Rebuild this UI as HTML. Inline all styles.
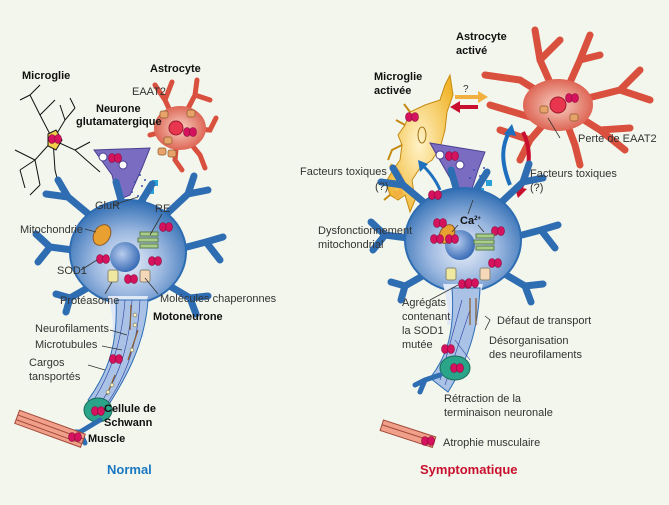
<!DOCTYPE html>
<html><head><meta charset="utf-8"><style>
html,body{margin:0;padding:0;background:#f3f6ec;}
svg{display:block}
text{font-family:"Liberation Sans Narrow","Liberation Sans",sans-serif;font-size:11px;fill:#333}
.b{font-weight:bold;fill:#111}
</style></head><body>
<svg width="669" height="505" viewBox="0 0 669 505" xmlns="http://www.w3.org/2000/svg">
<defs>
<radialGradient id="nb" cx="50%" cy="60%" r="60%"><stop offset="0" stop-color="#e8eef8"/><stop offset="0.5" stop-color="#9cb8e0"/><stop offset="1" stop-color="#2f6db3"/></radialGradient>
<radialGradient id="nuc" cx="40%" cy="40%" r="60%"><stop offset="0" stop-color="#b9cdee"/><stop offset="1" stop-color="#3d6fb8"/></radialGradient>
<radialGradient id="ast" cx="50%" cy="50%" r="60%"><stop offset="0" stop-color="#f7d2c4"/><stop offset="1" stop-color="#d9503f"/></radialGradient>
<radialGradient id="mg" cx="50%" cy="50%" r="60%"><stop offset="0" stop-color="#fff3c8"/><stop offset="1" stop-color="#f1b52c"/></radialGradient>
<g id="neuron">
 <g stroke="#2f6db3" stroke-width="7" stroke-linecap="round" fill="none">
  <path d="M-30,-30 L-60,-55 L-82,-58 M-60,-55 L-70,-72"/>
  <path d="M30,-30 L60,-58 L80,-62 M60,-58 L66,-76"/>
  <path d="M-40,0 L-78,-5 L-92,-18 M-78,-5 L-90,10"/>
  <path d="M40,0 L78,-10 L95,-15 M78,-10 L92,8"/>
  <path d="M-30,30 L-58,46 L-72,42 M-58,46 L-62,60"/>
  <path d="M35,30 L62,46 L80,44 M62,46 L68,62"/>
  <path d="M-5,-45 L-12,-70 M10,-45 L24,-68"/>
 </g>
 <ellipse cx="0" cy="0" rx="58" ry="52" fill="url(#nb)" stroke="#2f6db3" stroke-width="2"/>
 <path d="M-20,44 C-16,60 -14,70 -16,85 L16,85 C14,70 16,60 20,44 Z" fill="#dfe8f6"/>
 <circle cx="-3" cy="5" r="15" fill="url(#nuc)"/>
</g>
<g id="sod"><ellipse cx="-3" cy="1" rx="3.5" ry="4.5" fill="#d4125e" stroke="#8a0a3b" stroke-width="0.6"/><ellipse cx="3" cy="1" rx="3.5" ry="4.5" fill="#d4125e" stroke="#8a0a3b" stroke-width="0.6"/></g>
</defs>

<!-- ========== LEFT ========== -->
<g stroke="#111" stroke-width="1" fill="none">
 <path d="M53,140 L40,115 L30,95 M40,115 L55,100 M30,95 L40,85 M53,140 L35,160 L20,170 M35,160 L40,185 M20,170 L25,188 M53,140 L75,150 L92,165 M75,150 L90,142 M92,165 L100,172 M53,140 L65,120 L75,108 M65,120 L60,105 M35,160 L15,150 M40,185 L30,195 M53,140 L55,170 L60,190 M30,95 L20,100 M75,108 L70,98"/>
</g>
<path d="M48,134 l8,-4 l6,10 l-6,10 l-8,-4 z" fill="#f3cf4a" stroke="#111"/>
<use href="#sod" x="55" y="138"/>
<g stroke="#d9503f" stroke-width="5" stroke-linecap="round" fill="none">
 <path d="M178,128 L165,100 L155,85 M165,100 L172,82 M178,128 L195,95 L197,80 M195,95 L210,100 M178,128 L210,130 L216,118 M178,128 L200,155 L205,168 M178,128 L175,160 L182,170 M178,128 L150,135"/>
</g>
<ellipse cx="180" cy="128" rx="26" ry="22" fill="url(#ast)"/>
<circle cx="176" cy="128" r="7" fill="#e8364f" stroke="#a01a2e"/>
<use href="#sod" x="190" y="131"/>
<g fill="#e8a36a" stroke="#8b5a2b" stroke-width="0.7"><rect x="164" y="137" width="8" height="7" rx="2"/><rect x="158" y="148" width="8" height="7" rx="2"/><rect x="168" y="150" width="8" height="7" rx="2"/><rect x="160" y="111" width="8" height="7" rx="2"/><rect x="187" y="110" width="8" height="7" rx="2"/></g>
<path d="M94,150 L150,148 L142,168 L130,195 L118,200 L112,175 Z" fill="#7a6cc1" stroke="#4a3f91"/>
<circle cx="103" cy="157" r="4" fill="#fff" stroke="#4a3f91"/><circle cx="123" cy="165" r="4" fill="#fff" stroke="#4a3f91"/>
<use href="#sod" x="115" y="157"/>
<g fill="#3a4fb0"><circle cx="140" cy="175" r="1"/><circle cx="135" cy="182" r="1"/><circle cx="142" cy="186" r="1"/><circle cx="132" cy="192" r="1"/><circle cx="138" cy="196" r="1"/><circle cx="145" cy="180" r="1"/></g>
<g fill="#2aa0d8"><rect x="140" y="196" width="6" height="6"/><rect x="148" y="188" width="6" height="6"/><rect x="152" y="180" width="6" height="6"/></g>
<use href="#neuron" x="128" y="252"/>
<path d="M116,300 C118,340 110,370 88,400 L104,412 C125,380 145,345 148,300 Z" fill="#a9c2e6" stroke="#2f6db3"/>
<g stroke="#2b3f9e" stroke-width="0.6" fill="none"><path d="M125,300 C122,340 112,370 95,398 M132,300 C130,340 122,372 100,404 M140,300 C138,340 128,375 104,408"/></g>
<g stroke="#8b5a2b" stroke-width="1.2"><path d="M131,305 L130,330 M138,330 L128,360 M115,375 L107,395"/></g>
<g fill="#fff6c0" stroke="#998"><circle cx="135" cy="315" r="1.8"/><circle cx="135" cy="325" r="1.8"/><circle cx="132" cy="350" r="1.8"/><circle cx="112" cy="385" r="1.8"/><circle cx="108" cy="392" r="1.8"/></g>
<ellipse cx="98" cy="410" rx="14" ry="12" fill="#2aa58a" stroke="#1a6a57"/>
<use href="#sod" x="98" y="410"/>
<path d="M100,420 L80,432 L70,440 M80,432 L72,432 M80,432 L85,443" stroke="#2f6db3" stroke-width="5" fill="none" stroke-linecap="round"/>
<g transform="rotate(20 45 428)"><rect x="15" y="420" width="70" height="14" fill="#f0a08a" stroke="#a34a3a"/><line x1="15" y1="425" x2="85" y2="425" stroke="#a34a3a"/><line x1="15" y1="430" x2="85" y2="430" stroke="#a34a3a"/></g>
<use href="#sod" x="75" y="436"/>
<ellipse cx="102" cy="235" rx="8" ry="11" transform="rotate(30 102 235)" fill="#e8a030" stroke="#8b5a2b"/>
<g fill="#a8cc8a" stroke="#5a7a4a"><rect x="140" y="232" width="18" height="4"/><rect x="138" y="238" width="20" height="4"/><rect x="140" y="244" width="18" height="4"/></g>
<rect x="108" y="270" width="10" height="12" rx="2" fill="#eee8a0" stroke="#887"/>
<rect x="140" y="270" width="10" height="12" rx="2" fill="#f5d8b8" stroke="#887"/>
<use href="#sod" x="103" y="258"/><use href="#sod" x="155" y="260"/><use href="#sod" x="166" y="226"/><use href="#sod" x="131" y="278"/><use href="#sod" x="116" y="358"/>
<g stroke="#333" stroke-width="0.8" fill="none"><path d="M113,205 L138,197 M162,214 L150,235 M85,229 L96,232 M81,270 L97,260 M105,294 L112,282 M158,294 L145,278 M110,330 L127,335 M102,346 L122,350 M88,365 L105,370"/></g>
<text x="22" y="79" class="b">Microglie</text>
<text x="150" y="72" class="b">Astrocyte</text>
<text x="132" y="95">EAAT2</text>
<text x="96" y="112" class="b">Neurone</text>
<text x="76" y="125" class="b">glutamatergique</text>
<text x="95" y="209">GluR</text>
<text x="155" y="212">RE</text>
<text x="20" y="233">Mitochondrie</text>
<text x="57" y="274">SOD1</text>
<text x="60" y="304">Protéasome</text>
<text x="160" y="302">Molécules chaperonnes</text>
<text x="153" y="320" class="b">Motoneurone</text>
<text x="35" y="332">Neurofilaments</text>
<text x="35" y="348">Microtubules</text>
<text x="29" y="366">Cargos</text>
<text x="29" y="380">tansportés</text>
<text x="104" y="412" class="b">Cellule de</text>
<text x="104" y="426" class="b">Schwann</text>
<text x="88" y="442" class="b">Muscle</text>
<text x="107" y="474" class="b" style="fill:#1a78c2;font-size:13px">Normal</text>

<!-- ========== RIGHT ========== -->
<g stroke="#d9503f" stroke-width="7" stroke-linecap="round" fill="none">
 <path d="M560,105 L540,60 L535,30 M540,60 L560,40 M560,105 L580,60 L590,35 M580,60 L600,55 M560,105 L620,90 L640,70 M620,90 L650,100 M560,105 L600,130 L625,150 M600,130 L630,128 M560,105 L530,140 L520,160 M530,140 L500,130 M560,105 L540,120 L490,105 M560,105 L520,80 L485,75 M560,105 L575,145 L580,165"/>
</g>
<ellipse cx="558" cy="105" rx="35" ry="26" fill="url(#ast)"/>
<circle cx="558" cy="105" r="8" fill="#e8364f" stroke="#a01a2e"/>
<use href="#sod" x="572" y="97"/>
<g fill="#e8a36a" stroke="#8b5a2b" stroke-width="0.7"><rect x="540" y="106" width="8" height="7" rx="2"/><rect x="570" y="114" width="8" height="7" rx="2"/></g>
<!-- microglia activated -->
<path d="M450,75 L453,95 L447,112 L445,130 L440,148 L432,160 L420,168 L412,180 L415,200 L410,212 L405,195 L398,200 L390,195 L386,182 L393,170 L400,160 L402,145 L398,135 L405,125 L410,112 L425,105 L440,100 L445,85 Z" fill="url(#mg)" stroke="#c68a12"/>
<path d="M402,145 L392,150 L388,160 M405,125 L396,120 M410,112 L404,104 M390,195 L384,200" stroke="#c68a12" stroke-width="2" fill="none"/>
<ellipse cx="422" cy="135" rx="4" ry="8" fill="none" stroke="#a07010"/>
<use href="#sod" x="412" y="116"/>
<path d="M455,97 L478,97" stroke="#f1b040" stroke-width="4"/><path d="M478,91 L488,97 L478,103 Z" fill="#f1b040"/>
<path d="M478,107 L458,107" stroke="#c8102e" stroke-width="4"/><path d="M460,101 L450,107 L460,113 Z" fill="#c8102e"/>
<path d="M510,185 C500,160 502,145 510,130" stroke="#1f6fbf" stroke-width="4" fill="none"/><path d="M504,134 L512,124 L516,136 Z" fill="#1f6fbf"/>
<path d="M523,132 C532,150 530,170 520,190" stroke="#c8102e" stroke-width="4" fill="none"/><path d="M514,186 L518,198 L527,189 Z" fill="#c8102e"/>
<path d="M390,165 C402,172 405,185 398,195" stroke="#f1b040" stroke-width="4" fill="none"/><path d="M392,190 L396,200 L404,193 Z" fill="#f1b040"/>
<path d="M440,190 C436,180 428,170 422,165" stroke="#1f6fbf" stroke-width="3" fill="none"/><path d="M420,172 L418,160 L428,164 Z" fill="#1f6fbf"/>
<path d="M430,143 L485,152 L478,170 L470,195 L458,200 L450,178 Z" fill="#7a6cc1" stroke="#4a3f91"/>
<circle cx="440" cy="155" r="4" fill="#fff" stroke="#4a3f91"/><circle cx="460" cy="165" r="4" fill="#fff" stroke="#4a3f91"/>
<use href="#sod" x="452" y="155"/>
<g fill="#3a4fb0"><circle cx="474" cy="170" r="1"/><circle cx="470" cy="178" r="1"/><circle cx="478" cy="182" r="1"/><circle cx="466" cy="188" r="1"/><circle cx="474" cy="193" r="1"/><circle cx="480" cy="176" r="1"/><circle cx="484" cy="168" r="1"/></g>
<g fill="#2aa0d8"><rect x="478" y="188" width="6" height="6"/><rect x="486" y="180" width="6" height="6"/><rect x="474" y="196" width="6" height="6"/></g>
<use href="#neuron" x="463" y="240"/>
<path d="M452,288 C455,330 448,355 430,378 L448,392 C468,360 478,330 480,288 Z" fill="#a9c2e6" stroke="#2f6db3"/>
<g stroke="#2b3f9e" stroke-width="0.6"><path d="M462,300 L440,380 M470,310 L445,385 M455,340 L470,360"/></g>
<g stroke="#8b5a2b" stroke-width="1.2"><path d="M470,298 L470,325 M476,298 L476,325"/></g>
<ellipse cx="455" cy="368" rx="15" ry="12" fill="#2aa58a" stroke="#1a6a57"/>
<use href="#sod" x="457" y="367"/>
<path d="M440,375 L425,380 L415,385 M425,380 L420,392" stroke="#2f6db3" stroke-width="5" fill="none" stroke-linecap="round"/>
<g transform="rotate(18 407 435)"><rect x="380" y="428" width="55" height="11" fill="#f0a08a" stroke="#a34a3a"/><line x1="380" y1="433" x2="435" y2="433" stroke="#a34a3a"/></g>
<use href="#sod" x="428" y="440"/>
<ellipse cx="447" cy="234" rx="7" ry="10" transform="rotate(30 447 234)" fill="#e8a030" stroke="#8b5a2b"/>
<use href="#sod" x="437" y="238"/><use href="#sod" x="452" y="238"/><use href="#sod" x="440" y="222"/><use href="#sod" x="498" y="230"/><use href="#sod" x="495" y="262"/><use href="#sod" x="465" y="283"/><use href="#sod" x="472" y="282"/><use href="#sod" x="435" y="194"/><use href="#sod" x="448" y="348"/>
<g fill="#a8cc8a" stroke="#5a7a4a"><rect x="476" y="234" width="18" height="4"/><rect x="474" y="240" width="20" height="4"/><rect x="476" y="246" width="18" height="4"/></g>
<rect x="446" y="268" width="10" height="12" rx="2" fill="#eee8a0" stroke="#887"/>
<rect x="480" y="268" width="10" height="12" rx="2" fill="#f5d8b8" stroke="#887"/>
<g stroke="#333" stroke-width="0.8" fill="none"><path d="M473,200 L468,214 M458,225 L452,232 M478,225 L484,232 M430,300 L458,285 M485,316 L490,320 L485,330 M560,138 L548,118"/></g>
<text x="460" y="224" class="b" style="font-size:11px">Ca<tspan font-size="6" dy="-4">2+</tspan></text>
<text x="456" y="40" class="b">Astrocyte</text>
<text x="456" y="54" class="b">activé</text>
<text x="374" y="80" class="b">Microglie</text>
<text x="374" y="94" class="b">activée</text>
<text x="463" y="92" style="font-size:10px">?</text>
<text x="578" y="142">Perte de EAAT2</text>
<text x="300" y="175">Facteurs toxiques</text>
<text x="375" y="190">(?)</text>
<text x="530" y="177">Facteurs toxiques</text>
<text x="530" y="191">(?)</text>
<text x="318" y="234">Dysfonctionnement</text>
<text x="318" y="248">mitochondrial</text>
<text x="402" y="306">Agrégats</text>
<text x="402" y="320">contenant</text>
<text x="402" y="334">la SOD1</text>
<text x="402" y="348">mutée</text>
<text x="497" y="324">Défaut de transport</text>
<text x="489" y="344">Désorganisation</text>
<text x="489" y="358">des neurofilaments</text>
<text x="444" y="402">Rétraction de la</text>
<text x="444" y="416">terminaison neuronale</text>
<text x="443" y="446">Atrophie musculaire</text>
<text x="420" y="474" class="b" style="fill:#c8102e;font-size:13px">Symptomatique</text>
</svg>
</body></html>
